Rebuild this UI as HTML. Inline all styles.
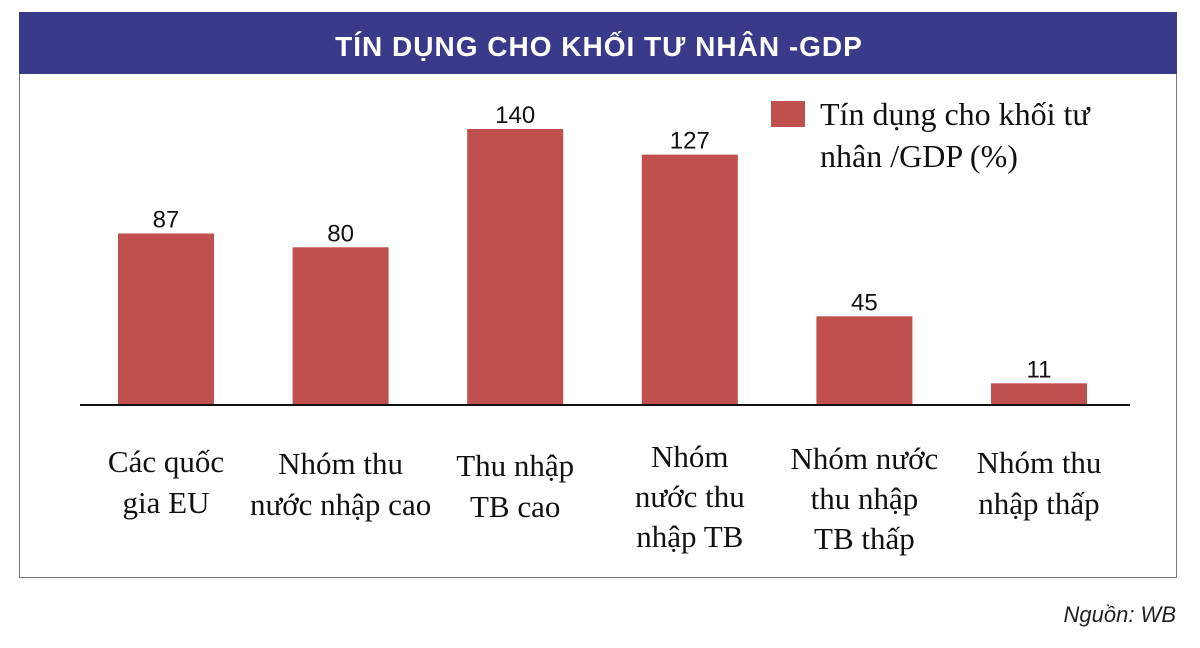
<!DOCTYPE html>
<html><head><meta charset="utf-8"><style>
body{margin:0;background:#fff;width:1200px;height:648px;overflow:hidden}
svg{display:block}
</style></head><body>
<svg width="1200" height="648">
<rect x="19.5" y="12.5" width="1157" height="565" fill="#fff" stroke="#777" stroke-width="1"/>
<rect x="19" y="12" width="1158" height="62" fill="#3a3a8a"/>
<text x="599" y="56" text-anchor="middle" fill="#fff" font-family="Liberation Sans, sans-serif" font-weight="bold" font-size="28" letter-spacing="1">TÍN DỤNG CHO KHỐI TƯ NHÂN -GDP</text>
<rect x="771" y="101" width="34" height="26" fill="#c0504d"/>
<text font-family="Liberation Serif, serif" font-size="32" fill="#111"><tspan x="820" y="125">Tín dụng cho khối tư</tspan><tspan x="820" y="167">nhân /GDP (%)</tspan></text>
<g id="bars"></g>
<line x1="80" y1="405" x2="1130" y2="405" stroke="#111" stroke-width="2"/>
<text x="1176" y="622" text-anchor="end" font-family="Liberation Sans, sans-serif" font-style="italic" font-size="22" fill="#222">Nguồn: WB</text>
</svg>
<script>
const categories=[["Các quốc","gia EU"],["Nhóm thu","nước nhập cao"],["Thu nhập","TB cao"],["Nhóm","nước thu","nhập TB"],["Nhóm nước","thu nhập","TB thấp"],["Nhóm thu","nhập thấp"]];
const values=[87,80,140,127,45,11];
const labelTops=[472,474,476,467,469,473];
const NS="http://www.w3.org/2000/svg";
const g=document.getElementById('bars');
const x0=166,step=174.6,bw=96,base=405,scale=276/140;
function xc(i){return x0+i*step;}
function y(v){return base-v*scale;}
values.forEach((v,i)=>{
 const r=document.createElementNS(NS,'rect');
 r.setAttribute('x',xc(i)-bw/2);r.setAttribute('y',y(v));r.setAttribute('width',bw);r.setAttribute('height',base-y(v));r.setAttribute('fill','#c0504d');
 
 
 g.appendChild(r);
 const t=document.createElementNS(NS,'text');
 t.setAttribute('x',xc(i));t.setAttribute('y',y(v)-6);t.setAttribute('text-anchor','middle');t.setAttribute('font-family','Liberation Sans, sans-serif');t.setAttribute('font-size','24');t.setAttribute('fill','#111');
 t.textContent=v;
 
 
 g.appendChild(t);
 const c=document.createElementNS(NS,'text');
 c.setAttribute('text-anchor','middle');c.setAttribute('font-family','Liberation Serif, serif');c.setAttribute('font-size','31');c.setAttribute('fill','#111');
 
 
 categories[i].forEach((line,j)=>{
  const s=document.createElementNS(NS,'tspan');
  s.setAttribute('x',xc(i));s.setAttribute('y',labelTops[i]+j*(categories[i].length>2?40:41));
  s.textContent=line;c.appendChild(s);
 });
 g.appendChild(c);
});
</script>
</body></html>
